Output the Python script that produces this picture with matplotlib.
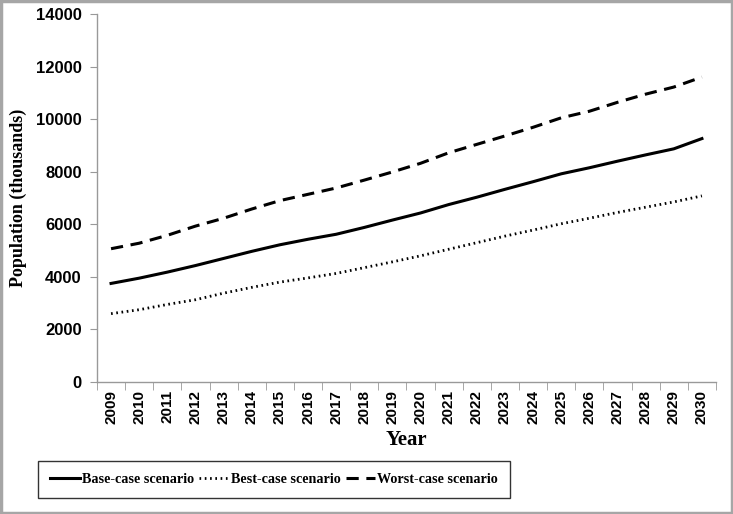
import numpy as np
import matplotlib
matplotlib.use("Agg")
import matplotlib.pyplot as plt
from matplotlib.patches import Rectangle

years = list(range(2009, 2031))
base_case = [3750, 3950, 4180, 4430, 4700, 4970, 5220, 5430, 5620, 5880, 6160,
             6430, 6750, 7030, 7330, 7620, 7920, 8150, 8400, 8640, 8870, 9260]
best_case = [2600, 2750, 2950, 3130, 3380, 3600, 3800, 3960, 4130, 4350, 4570,
             4800, 5050, 5300, 5550, 5780, 6020, 6230, 6450, 6650, 6850, 7080]
worst_case = [5070, 5280, 5580, 5930, 6230, 6580, 6900, 7140, 7380, 7680, 7990,
              8320, 8720, 9040, 9360, 9690, 10050, 10300, 10640, 10950, 11220, 11600]

serif = ["Liberation Serif", "DejaVu Serif"]
sans = ["Liberation Sans Narrow", "Liberation Sans", "DejaVu Sans"]

fig = plt.figure(figsize=(7.33, 5.14), dpi=100)
ax = fig.add_axes([0.1323, 0.2568, 0.8445, 0.716])

x = np.arange(len(years))
l1, = ax.plot(x, base_case, color="black", lw=2.2, ls="-")
l2, = ax.plot(x, best_case, color="black", lw=2.0, ls=(0, (0.6, 1.3)))
l3, = ax.plot(x, worst_case, color="black", lw=2.2, ls=(0, (4, 2.5)))

ax.set_xlim(-0.5, len(years) - 0.5)
ax.set_ylim(0, 14000)
ax.set_yticks(np.arange(0, 14001, 2000))
ax.set_yticklabels([str(v) for v in range(0, 14001, 2000)],
                   family=sans, fontweight="bold", fontsize=12)
ax.set_xticks(x)
ax.set_xticklabels([str(y) for y in years], rotation=90,
                   family=["Liberation Sans", "DejaVu Sans"], fontweight="bold", fontsize=11)
ax.set_xticks(np.arange(-0.5, len(years)), minor=True)
ax.tick_params(axis="x", which="major", length=0, pad=6)
ax.tick_params(axis="x", which="minor", length=6, color="#999999", direction="out")
ax.tick_params(axis="y", length=5, color="#999999", direction="out", pad=6)

for s in ("top", "right"):
    ax.spines[s].set_visible(False)
for s in ("left", "bottom"):
    ax.spines[s].set_color("#999999")
    ax.spines[s].set_linewidth(1.0)

ax.set_xlabel("Year", family=serif, fontweight="bold", fontsize=15, labelpad=4)
ax.set_ylabel("Population (thousands)", family=serif, fontweight="bold",
              fontsize=13, labelpad=6)

leg = fig.legend([l1, l2, l3],
                 ["Base-case scenario", "Best-case scenario", "Worst-case scenario"],
                 loc="center", bbox_to_anchor=(0.374, 0.0665), ncol=3,
                 prop={"family": serif, "weight": "bold", "size": 10.2},
                 frameon=True, fancybox=False, edgecolor="black",
                 handlelength=2.1, handletextpad=0.15, columnspacing=0.35,
                 borderpad=0.85, borderaxespad=0)
leg.get_frame().set_linewidth(1.0)

fig.patches.append(Rectangle((0.002, 0.002), 0.996, 0.996, transform=fig.transFigure,
                             fill=False, edgecolor="#a6a6a6", lw=2.5))

fig.savefig("out.png", dpi=100)
